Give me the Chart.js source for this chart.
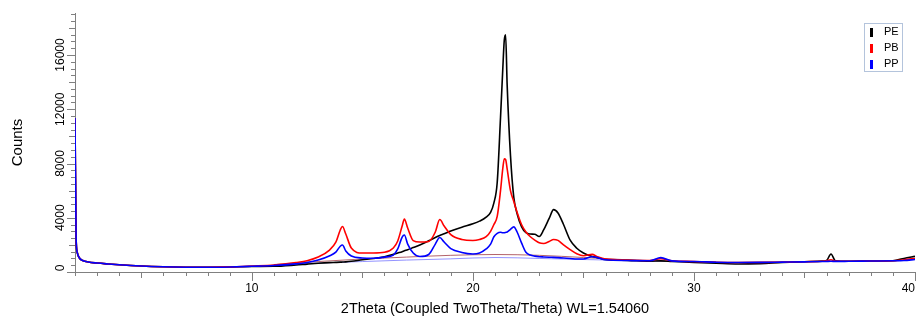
<!DOCTYPE html>
<html><head><meta charset="utf-8">
<script src="https://cdn.jsdelivr.net/npm/chart.js@4/dist/chart.umd.min.js"></script>
<style>html,body{margin:0;padding:0;background:#fff;overflow:hidden}canvas{display:block}</style>
</head><body><canvas id="c" width="917" height="323" style="width:917px;height:323px"></canvas>
<script>
const twoTheta = [2.0,2.05,2.1,2.2,2.35,2.6,3.0,3.5,4,5,6,7,8,9,10,11,12,12.5,13,13.5,13.8,14.0,14.1,14.25,14.5,15.0,15.5,16.0,16.4,16.6,16.8,16.9,17.05,17.3,17.6,18.0,18.3,18.5,18.7,19.0,19.5,20.0,20.3,20.6,20.8,20.95,21.1,21.25,21.35,21.42,21.48,21.55,21.7,21.85,22.0,22.2,22.4,22.6,22.8,23.0,23.2,23.45,23.65,23.85,24.1,24.4,24.7,25.0,25.4,25.6,26.0,27,28,28.5,29,30,31,32,33,34,35,35.8,36.0,36.2,36.4,37,38,39,39.5,40];
const countsPE = [11350,2500,1450,1030,850,740,660,590,530,440,385,355,345,365,410,420,516,580,640,690,710,725,735,750,790,900,1000,1130,1300,1400,1500,1560,1640,1800,1990,2300,2550,2700,2820,3020,3300,3550,3750,4050,4400,5100,6600,11400,14900,17100,17500,13800,8600,5500,4300,3350,2900,2800,2780,2620,3100,3950,4600,4350,3500,2350,1750,1400,1150,1080,920,860,800,820,780,700,640,590,620,700,760,800,850,1330,830,790,810,830,1000,1150];
const countsPB = [11350,2500,1450,1030,850,740,660,590,530,440,385,355,350,375,440,516,700,830,1100,1600,2200,3100,3350,2800,1770,1400,1400,1450,1770,2290,3390,3900,3240,2320,2210,2250,2950,3870,3390,2760,2400,2320,2400,2600,3000,3500,4100,6000,7600,8350,8300,7600,6000,5200,4400,3500,2950,2600,2350,2150,2100,2250,2400,2330,2000,1650,1350,1200,1300,1150,950,880,850,980,830,770,720,700,710,730,760,790,820,900,810,790,810,830,900,1000];
const countsPP = [11350,2500,1450,1030,850,740,660,590,530,440,385,355,348,370,420,480,600,700,880,1180,1470,1900,1990,1550,1180,1030,1010,1100,1250,1700,2580,2730,2060,1400,1140,1290,2060,2540,2210,1730,1440,1330,1400,1700,2050,2600,2850,2930,2900,2900,2920,2950,3150,3330,2950,2150,1450,1250,1170,1130,1110,1090,1080,1060,1030,1000,960,960,1130,1080,900,850,830,1060,820,770,720,700,710,730,750,770,780,790,780,790,810,830,850,920];
const bgTheta = [11,13,15,17,19,21,23,25,27,29,31];
const bgPB = [550,770,960,1100,1230,1290,1230,1070,900,800,740];
const bgPP = [520,660,770,880,970,1070,1000,920,850,780,730];
const seriesNames = ['PE','PB','PP'];
const seriesColors = ['#000000','#ff0000','#0000ff'];
const yTickLabels = [0,4000,8000,12000,16000];
const xTickLabels = [10,20,30,40];
const xTitle = '2Theta (Coupled TwoTheta/Theta) WL=1.54060';
const yTitle = 'Counts';

const FONT = "'Liberation Sans', Arial, sans-serif";
const toXY = (xs, ys) => xs.map((x, i) => ({x: x, y: ys[i]}));
const seriesData = [countsPE, countsPB, countsPP];

const datasets = seriesNames.map((n, i) => ({
  label: n,
  data: toXY(twoTheta, seriesData[i]),
  borderColor: seriesColors[i],
  backgroundColor: seriesColors[i],
  borderWidth: 1.6,
  pointRadius: 0,
  cubicInterpolationMode: 'monotone',
  order: 3 - i
}));
datasets.push({label: 'bgPB', data: toXY(bgTheta, bgPB), borderColor: 'rgba(160,60,70,0.8)', borderWidth: 1, pointRadius: 0, cubicInterpolationMode: 'monotone', order: 5});
datasets.push({label: 'bgPP', data: toXY(bgTheta, bgPP), borderColor: 'rgba(120,120,255,0.8)', borderWidth: 1, pointRadius: 0, cubicInterpolationMode: 'monotone', order: 6});

const decor = {
  id: 'decor',
  afterDraw(chart) {
    const ctx = chart.ctx;
    const xs = chart.scales.x, ys = chart.scales.y;
    ctx.save();
    ctx.strokeStyle = '#808080';
    ctx.lineWidth = 1;
    ctx.beginPath();
    xs.ticks.forEach(t => {
      const v = Math.round(t.value);
      const len = v % 10 === 0 ? 9 : (v % 5 === 0 ? 6 : 4);
      const px = Math.round(xs.getPixelForValue(t.value)) + 0.5;
      ctx.moveTo(px, xs.top); ctx.lineTo(px, xs.top + len);
    });
    ys.ticks.forEach(t => {
      const v = Math.round(t.value);
      const len = v % 4000 === 0 ? 8 : (v % 2000 === 0 ? 6 : 4);
      const py = Math.round(ys.getPixelForValue(t.value)) + 0.5;
      ctx.moveTo(ys.right - len, py); ctx.lineTo(ys.right, py);
    });
    ctx.stroke();
    // y tick labels (rotated)
    ctx.fillStyle = '#000';
    ctx.font = '12px ' + FONT;
    ctx.textAlign = 'center';
    ctx.textBaseline = 'middle';
    yTickLabels.forEach(v => {
      let py = ys.getPixelForValue(v);
      py = Math.min(py, ys.bottom - 4);
      ctx.save();
      ctx.translate(61, py);
      ctx.rotate(-Math.PI / 2);
      ctx.fillText(String(v), 0, 0);
      ctx.restore();
    });
    // legend box
    const bx = 864.5, by = 23.5, bw = 38, bh = 48;
    ctx.fillStyle = '#fff';
    ctx.fillRect(bx, by, bw, bh);
    ctx.strokeStyle = '#b4c4dc';
    ctx.strokeRect(bx, by, bw, bh);
    ctx.font = '11px ' + FONT;
    ctx.textAlign = 'left';
    seriesNames.forEach((n, i) => {
      const cy = 32 + i * 16;
      ctx.fillStyle = chart.data.datasets[i].borderColor;
      ctx.fillRect(870, cy - 4, 3, 9);
      ctx.fillStyle = '#000';
      ctx.fillText(n, 884, cy);
    });
    ctx.restore();
  }
};

new Chart(document.getElementById('c'), {
  type: 'line',
  data: {datasets: datasets},
  plugins: [decor],
  options: {
    responsive: false,
    maintainAspectRatio: false,
    animation: false,
    devicePixelRatio: 1,
    layout: {autoPadding: false, padding: {top: 13, right: 2, left: 0, bottom: 0}},
    plugins: {legend: {display: false}, tooltip: {enabled: false}},
    scales: {
      x: {
        type: 'linear', min: 2, max: 40,
        ticks: {
          stepSize: 1, autoSkip: false, maxRotation: 0, minRotation: 0, align: 'inner', padding: 0,
          color: '#000', font: {family: FONT, size: 12},
          callback: v => xTickLabels.includes(Math.round(v)) && Math.abs(v - Math.round(v)) < 1e-6 ? String(Math.round(v)) : ''
        },
        grid: {display: true, drawOnChartArea: false, drawTicks: true, tickLength: 9, tickColor: 'rgba(0,0,0,0)'},
        border: {display: true, color: '#808080', width: 1},
        title: {display: true, text: xTitle, color: '#000', font: {family: FONT, size: 14.5}, padding: {top: 0, bottom: 5}},
        afterFit: s => { s.height = 51; }
      },
      y: {
        type: 'linear', min: 0, max: 19100,
        afterBuildTicks: axis => {
          const t = [];
          for (let v = 0; v <= 19000; v += 500) t.push({value: v});
          axis.ticks = t;
        },
        ticks: {display: false},
        grid: {display: true, drawOnChartArea: false, drawTicks: false},
        border: {display: true, color: '#808080', width: 1},
        title: {display: true, text: yTitle, color: '#000', font: {family: FONT, size: 15}, padding: {top: 9, bottom: 0}},
        afterFit: s => { s.width = 75; }
      }
    }
  }
});
</script>
</body></html>
